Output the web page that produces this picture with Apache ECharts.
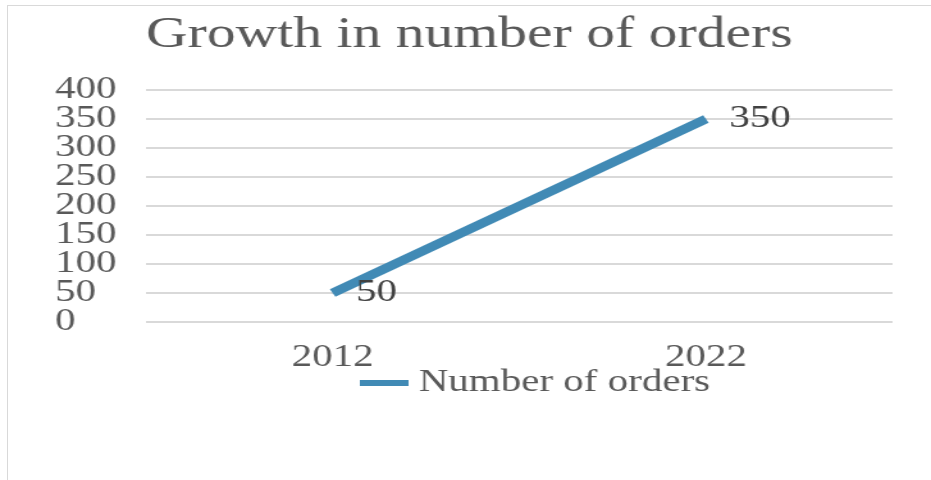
<!DOCTYPE html>
<html>
<head>
<meta charset="utf-8">
<script src="https://cdn.jsdelivr.net/npm/echarts@6/dist/echarts.min.js"></script>
<style>
  html, body { margin: 0; padding: 0; background: #ffffff; overflow: hidden; }
  #frame { position: absolute; left: 7px; top: 5px; width: 940px; height: 490px;
           border-left: 1px solid #d9d9d9; border-top: 1px solid #d9d9d9; }
  #main { position: absolute; left: 0; top: 0; width: 727px; height: 480px;
          transform: scaleX(1.2806); transform-origin: 0 0; }
</style>
</head>
<body>
<div id="frame"></div>
<div id="main"></div>
<script>
const titleText = 'Growth in number of orders';
const seriesName = 'Number of orders';
const categories = ['2012', '2022'];
const orders = [50, 350];
// tick labels 0,50,...,400 (drawn as two interleaved axes so none are dropped)
const yMin = 0, yMax = 400, yStep = 50;

const serif = '"Liberation Serif", "Times New Roman", serif';
const lineColor = '#418ab5';
const gridLine = { color: '#d9d9d9', width: 2 };
const yLabel = { fontFamily: serif, fontSize: 32, color: '#595959', align: 'left', margin: 71 };

// pixel extent of the plot (internal coords)
const G = { left: 114, right: 30, top: 90, bottom: 158 };
const plotH = 480 - G.top - G.bottom;
const stepPx = plotH * yStep / (yMax - yMin);

const chart = echarts.init(document.getElementById('main'), null, { renderer: 'canvas' });
chart.setOption({
  animation: false,
  backgroundColor: 'transparent',
  title: {
    text: titleText,
    left: 109,
    top: 8,
    textStyle: { fontFamily: serif, fontSize: 45, fontWeight: 'normal', color: '#595959' }
  },
  grid: [
    { left: G.left, right: G.right, top: G.top, bottom: G.bottom },
    { left: G.left, right: G.right, top: G.top + stepPx, bottom: G.bottom + stepPx }
  ],
  legend: {
    data: [{ name: seriesName, itemStyle: { color: lineColor } }],
    left: 276,
    top: 362,
    icon: 'rect',
    itemWidth: 38,
    itemHeight: 6,
    textStyle: { fontFamily: serif, fontSize: 32, color: '#595959', padding: [0, 0, 0, 3] }
  },
  xAxis: [{
    type: 'category',
    gridIndex: 0,
    data: categories,
    boundaryGap: true,
    axisLine: { show: false },
    axisTick: { show: false },
    axisLabel: { fontFamily: serif, fontSize: 32, color: '#595959', margin: 20 }
  }, {
    type: 'category',
    gridIndex: 1,
    data: categories,
    show: false
  }],
  yAxis: [{
    type: 'value',
    gridIndex: 0,
    min: yMin,
    max: yMax,
    interval: yStep * 2,
    axisLine: { show: false },
    axisTick: { show: false },
    minorTick: { show: false, splitNumber: 2 },
    axisLabel: yLabel,
    splitLine: { lineStyle: gridLine },
    minorSplitLine: { show: true, lineStyle: gridLine }
  }, {
    type: 'value',
    gridIndex: 1,
    min: yMin + yStep,
    max: yMax - yStep,
    interval: yStep * 2,
    axisLine: { show: false },
    axisTick: { show: false },
    axisLabel: yLabel,
    splitLine: { show: false }
  }],
  series: [{
    name: seriesName,
    type: 'line',
    xAxisIndex: 0,
    yAxisIndex: 0,
    data: orders,
    symbol: 'circle',
    symbolSize: 0.5,
    showSymbol: true,
    lineStyle: { color: lineColor, width: 8.5 },
    itemStyle: { color: lineColor },
    label: {
      show: true,
      position: 'right',
      distance: 18,
      fontFamily: serif,
      fontSize: 32,
      color: '#404040'
    }
  }]
});
</script>
</body>
</html>
